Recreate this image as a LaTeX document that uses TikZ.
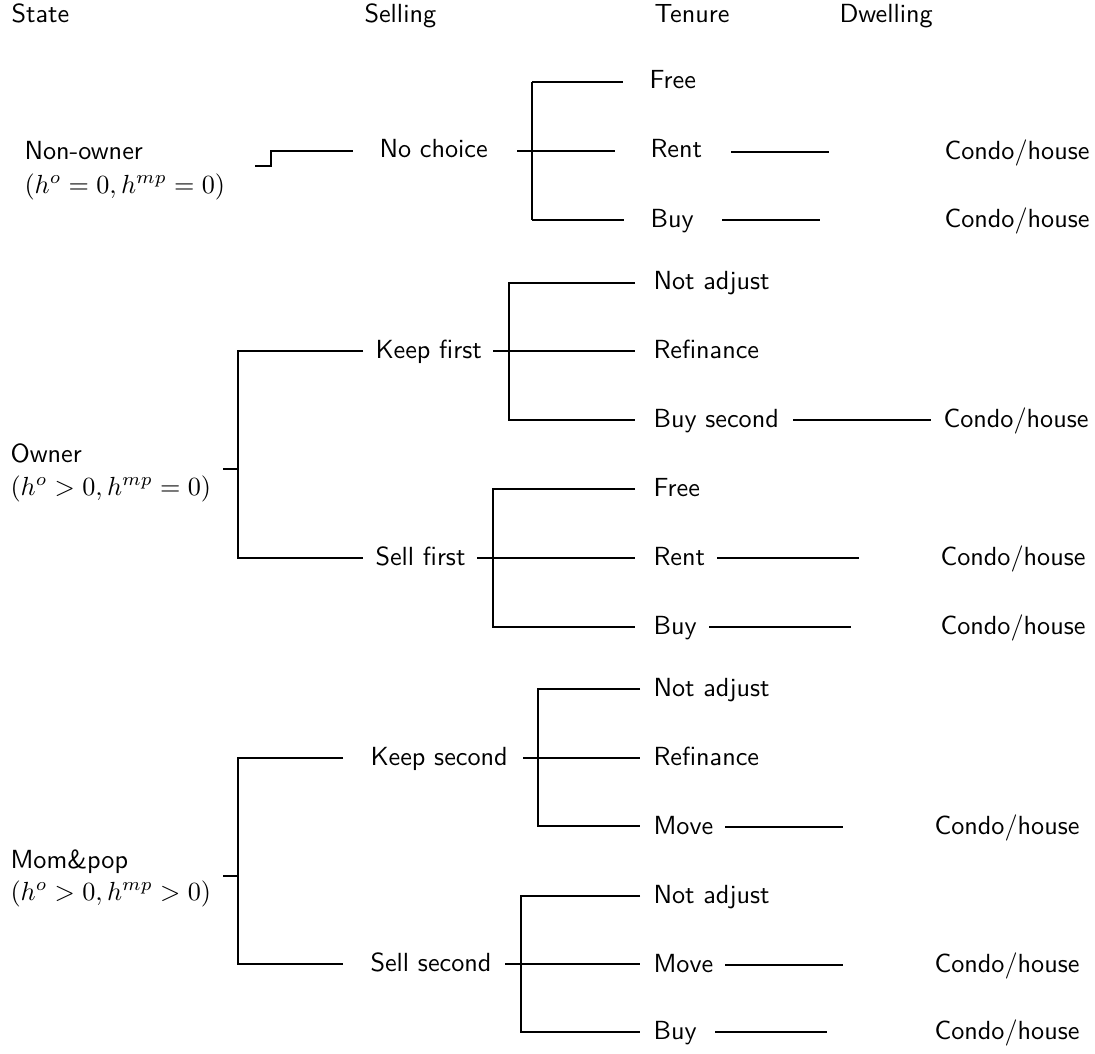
\documentclass[tikz,border=0pt]{standalone}
\begin{document}
\begin{tikzpicture}[x=0.38168pt,y=-0.38168pt,
  lbl/.style={anchor=base west,inner sep=0pt,font=\sffamily},
  mlbl/.style={anchor=base west,inner sep=0pt},
  edge/.style={line width=0.75pt},
  tickln/.style={line width=1.1pt}]
\useasboundingbox (0,0) rectangle (1095,1053);
% headers
\node[lbl] (hState) at (11,23) {State};
\node[lbl] (hSell) at (364,23) {Selling};
\node[lbl] (hTen) at (654,23) {Tenure};
\node[lbl] (hDw) at (839,23) {Dwelling};

% ---------- Non-owner ----------
\node[lbl] (no1) at (24,159) {Non-owner};
\node[mlbl] (no2) at (24,193) {$(h^o=0,h^{mp}=0)$};
\node[lbl] (nc) at (379,158) {No choice};
\node[lbl] (nFree) at (649,89) {Free};
\node[lbl] (nRent) at (650,158) {Rent};
\node[lbl] (nBuy) at (650,227) {Buy};
\node[lbl] (nRentD) at (944,159) {Condo/house};
\node[lbl] (nBuyD) at (944,227) {Condo/house};
\coordinate (noA) at (255,166);
\coordinate (noB) at (271,166);
\coordinate (noC) at (271,151);
\coordinate (noD) at (353,151);
\draw[edge] (noA) -- (noB) -- (noC) -- (noD);
\coordinate (ncT) at (517,151);
\coordinate (ncF) at (532,151);
\draw[tickln] (ncT) -- (ncF);
\draw[edge] (532,82) -- (532,220);
\draw[edge] (532,82) -- (623,82);
\draw[edge] (ncF) -- (615,151);
\draw[edge] (532,220) -- (624,220);
\coordinate (nRa) at (731,152); \coordinate (nRb) at (829,152);
\coordinate (nBa) at (722,220); \coordinate (nBb) at (820,220);
\draw[edge] (nRa) -- (nRb);
\draw[edge] (nBa) -- (nBb);

% ---------- Owner ----------
\node[lbl] (ow1) at (10,462) {Owner};
\node[mlbl] (ow2) at (10,495) {$(h^o>0,h^{mp}=0)$};
\node[lbl] (kf) at (375,358) {Keep first};
\node[lbl] (sf) at (375,565) {Sell first};
\node[lbl] (kfNA) at (653,289) {Not adjust};
\node[lbl] (kfRe) at (653,358) {Refinance};
\node[lbl] (kfBS) at (653,427) {Buy second};
\node[lbl] (kfBSD) at (943,427) {Condo/house};
\node[lbl] (sfFr) at (653,496) {Free};
\node[lbl] (sfRe) at (653,565) {Rent};
\node[lbl] (sfBu) at (653,634) {Buy};
\node[lbl] (sfReD) at (940,565) {Condo/house};
\node[lbl] (sfBuD) at (940,634) {Condo/house};
\coordinate (owT) at (223,469); \coordinate (owF) at (238,469);
\draw[tickln] (owT) -- (owF);
\draw[edge] (363,351) -- (238,351) -- (238,558) -- (363,558);
\coordinate (kfT) at (493,351); \coordinate (kfF) at (509,351);
\draw[tickln] (kfT) -- (kfF);
\draw[edge] (635,283) -- (509,283) -- (509,420) -- (635,420);
\draw[edge] (kfF) -- (635,351);
\draw[edge] (793,420) -- (931,420);
\coordinate (sfT) at (477,558); \coordinate (sfF) at (493,558);
\draw[tickln] (sfT) -- (sfF);
\draw[edge] (635,489) -- (493,489) -- (493,627) -- (635,627);
\draw[edge] (sfF) -- (635,558);
\draw[edge] (717,558) -- (859,558);
\draw[edge] (709,627) -- (851,627);

% ---------- Mom&pop ----------
\node[lbl] (mp1) at (10,868) {Mom\&pop};
\node[mlbl] (mp2) at (10,900) {$(h^o>0,h^{mp}>0)$};
\node[lbl] (ks) at (370,765) {Keep second};
\node[lbl] (ss) at (370,971) {Sell second};
\node[lbl] (ksNA) at (653,696) {Not adjust};
\node[lbl] (ksRe) at (653,765) {Refinance};
\node[lbl] (ksMo) at (653,834) {Move};
\node[lbl] (ksMoD) at (934,834) {Condo/house};
\node[lbl] (ssNA) at (653,903) {Not adjust};
\node[lbl] (ssMo) at (653,972) {Move};
\node[lbl] (ssBu) at (653,1039) {Buy};
\node[lbl] (ssMoD) at (934,972) {Condo/house};
\node[lbl] (ssBuD) at (934,1039) {Condo/house};
\coordinate (mpT) at (223,876); \coordinate (mpF) at (238,876);
\draw[tickln] (mpT) -- (mpF);
\draw[edge] (343,758) -- (238,758) -- (238,964) -- (343,964);
\coordinate (ksT) at (523,758); \coordinate (ksF) at (538,758);
\draw[tickln] (ksT) -- (ksF);
\draw[edge] (640,689) -- (538,689) -- (538,826) -- (640,826);
\draw[edge] (ksF) -- (640,758);
\draw[edge] (725,827) -- (843,827);
\coordinate (ssT) at (505,964); \coordinate (ssF) at (521,964);
\draw[tickln] (ssT) -- (ssF);
\draw[edge] (640,896) -- (521,896) -- (521,1032) -- (640,1032);
\draw[edge] (ssF) -- (640,964);
\draw[edge] (725,965) -- (843,965);
\draw[edge] (715,1032) -- (827,1032);
\end{tikzpicture}
\end{document}
